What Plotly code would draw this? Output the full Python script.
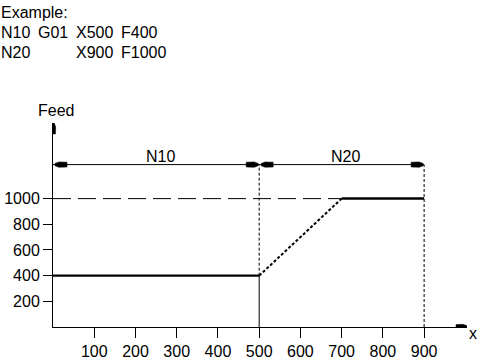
import plotly.graph_objects as go

# ---- data ----
x_ticks = [100, 200, 300, 400, 500, 600, 700, 800, 900]
y_ticks = [200, 400, 600, 800, 1000]
block_labels = ["N10", "N20"]
block_start = [0, 500]
block_end = [500, 900]
block_feed = [400, 1000]
accel_end_x = 700
dim_level = 1265
x_max = 1004
y_max = 1589
header_title = "Example:"
header_row1 = ["N10", "G01", "X500", "F400"]
header_row2 = ["N20", "X900", "F1000"]

FONT = "Liberation Sans, Arial, sans-serif"
BLACK = "#000000"

W, H = 479, 361
ML, MR, MT, MB = 53, 12, 123, 34
PW, PH = W - ML - MR, H - MT - MB
XU = x_max / PW   # data units per pixel (x)
YU = y_max / PH   # data units per pixel (y)

fig = go.Figure()

def line(xs, ys, width=1, dash="solid"):
    fig.add_trace(go.Scatter(x=xs, y=ys, mode="lines", cliponaxis=False,
                             line=dict(color=BLACK, width=width, dash=dash),
                             hoverinfo="skip", showlegend=False))

def head(tx, ty, direction, length=12, half=2.7, pad=0):
    # elongated filled arrowhead, tip at (tx, ty) in data coords
    pts = [(0, -half * 0.45), (0, half * 0.45), (-4, half), (-length, half * 0.9),
           (-length, -half * 0.9), (-4, -half), (0, -half * 0.45)]
    xs, ys = [], []
    for u, v in pts:
        u = u - pad
        if direction == "right":
            px, py = u, v
        elif direction == "left":
            px, py = -u, v
        else:  # up
            px, py = v, u
        xs.append(tx + px * XU)
        ys.append(ty + py * YU)
    fig.add_trace(go.Scatter(x=xs, y=ys, mode="lines", fill="toself", fillcolor=BLACK,
                             cliponaxis=False, line=dict(color=BLACK, width=0.5),
                             hoverinfo="skip", showlegend=False))

# dashed programmed-feed reference line at F1000
line([block_start[0], accel_end_x], [block_feed[1], block_feed[1]], 1, "18px,7px")
# N10 feed
line([block_start[0], block_end[0]], [block_feed[0], block_feed[0]], 2.2)
# step down at end of N10
line([block_end[0], block_end[0]], [0, block_feed[0]], 1)
# acceleration ramp
line([block_end[0], accel_end_x], [block_feed[0], block_feed[1]], 2, "3px,2px")
# N20 feed
line([accel_end_x, block_end[1]], [block_feed[1], block_feed[1]], 2.5)
# extension lines
line([block_end[0], block_end[0]], [block_feed[0], dim_level], 1, "3px,2px")
line([block_end[1], block_end[1]], [0, dim_level], 1, "3px,2px")
# dimension line
line([block_start[0], block_end[-1]], [dim_level, dim_level], 1)
for s, e in zip(block_start, block_end):
    head(s, dim_level, "left", pad=2)
    head(e, dim_level, "right", pad=1)

# axis arrowheads
head(x_max, 0, "right", length=11)
head(0, y_max, "up", length=11)

annotations = []
for s, e, lab in zip(block_start, block_end, block_labels):
    annotations.append(dict(x=(s + e) / 2 + 10, y=dim_level, xref="x", yref="y",
                            text=lab, showarrow=False, yanchor="bottom", yshift=-2,
                            font=dict(family=FONT, size=16, color=BLACK)))
# axis titles
annotations.append(dict(x=0, y=y_max, xref="x", yref="y", text="Feed", showarrow=False,
                        yanchor="bottom", xanchor="center", xshift=3, yshift=2,
                        font=dict(family=FONT, size=16, color=BLACK)))
annotations.append(dict(x=x_max, y=0, xref="x", yref="y", text="x", showarrow=False,
                        yanchor="middle", xanchor="left", xshift=0, yshift=-6,
                        font=dict(family=FONT, size=16, color=BLACK)))

# header text
def htext(t, px, row):
    annotations.append(dict(x=0, y=1, xref="paper", yref="paper", text=t, showarrow=False,
                            xanchor="left", yanchor="top", xshift=px - ML - 1,
                            yshift=MT - 2 - 20 * row,
                            font=dict(family=FONT, size=16, color=BLACK)))

htext(header_title, 0, 0)
for t, px in zip(header_row1, [0, 37, 75, 120]):
    htext(t, px, 1)
for t, px in zip(header_row2, [0, 75, 120]):
    htext(t, px, 2)

axis_common = dict(showline=True, linecolor=BLACK, linewidth=1, ticks="outside",
                   tickcolor=BLACK, tickwidth=1, showgrid=False, zeroline=False,
                   automargin=False,
                   tickfont=dict(family=FONT, size=16, color=BLACK), fixedrange=True)

fig.update_layout(
    width=W, height=H,
    margin=dict(l=ML, r=MR, t=MT, b=MB),
    paper_bgcolor="white", plot_bgcolor="white",
    xaxis=dict(range=[0, x_max], tickvals=x_ticks, ticklen=10, **axis_common),
    yaxis=dict(range=[0, y_max], tickvals=y_ticks, ticklen=9, **axis_common),
    annotations=annotations,
    showlegend=False,
)

fig.write_html("out.html", config={"displayModeBar": False},
               post_script="document.body.style.margin='0';document.body.style.overflow='hidden';")
